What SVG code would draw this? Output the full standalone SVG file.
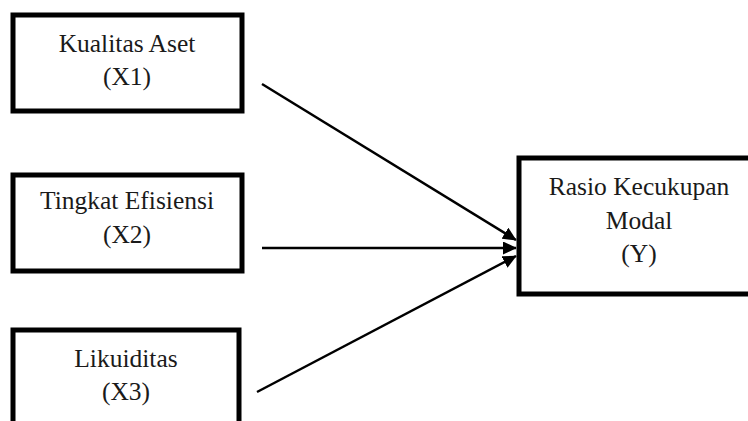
<svg xmlns="http://www.w3.org/2000/svg" width="748" height="421" viewBox="0 0 748 421">
<style>
.box{fill:#fff;stroke:#000;stroke-width:5}
.t{font-family:"Liberation Serif","Times New Roman",serif;font-size:25.5px;fill:#1a1a1a;text-anchor:middle}
.c{stroke:#000;stroke-width:2.5;fill:none;marker-end:url(#ah)}
</style>
<defs>
<marker id="ah" markerWidth="5.5" markerHeight="5.2" refX="5.2" refY="2.6" orient="auto" markerUnits="strokeWidth">
<path d="M0,0 L5.5,2.6 L0,5.2 Z" fill="#000"/>
</marker>
</defs>
<rect width="748" height="421" fill="#fff"/>
<g id="x1">
<rect class="box" x="13" y="15" width="229" height="96"/>
<text class="t" x="127" y="51.5">Kualitas Aset</text>
<text class="t" x="127" y="85">(X1)</text>
</g>
<g id="x2">
<rect class="box" x="13" y="175" width="229" height="96"/>
<text class="t" x="127" y="209">Tingkat Efisiensi</text>
<text class="t" x="127" y="243">(X2)</text>
</g>
<g id="x3">
<rect class="box" x="13" y="330" width="226" height="110"/>
<text class="t" x="126" y="366.5">Likuiditas</text>
<text class="t" x="126" y="399.5">(X3)</text>
</g>
<g id="y">
<rect class="box" x="519" y="158" width="250" height="136"/>
<text class="t" x="639" y="195">Rasio Kecukupan</text>
<text class="t" x="639" y="229">Modal</text>
<text class="t" x="639" y="262">(Y)</text>
</g>
<g id="connectors">
<line class="c" x1="262" y1="84" x2="516" y2="240"/>
<line class="c" x1="262" y1="248" x2="516" y2="248"/>
<line class="c" x1="257" y1="392" x2="516" y2="256"/>
</g>
</svg>
